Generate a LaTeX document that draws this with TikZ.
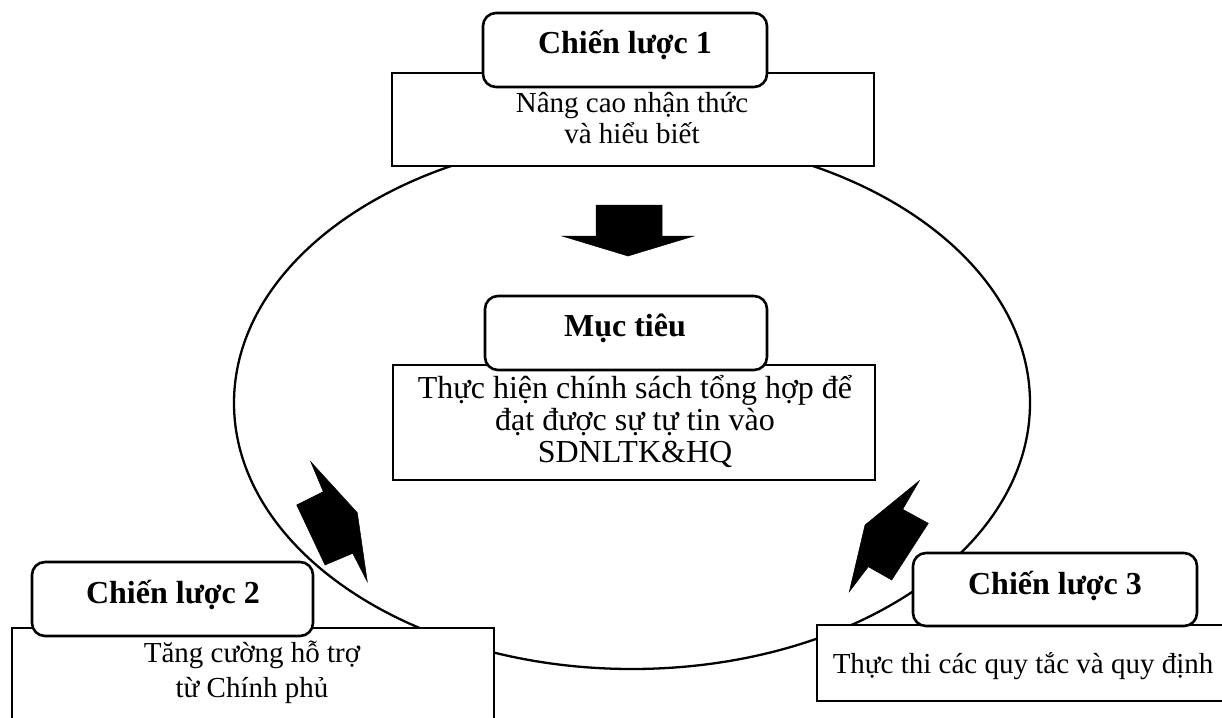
\documentclass[tikz,border=0pt]{standalone}
\usepackage{fontspec}
\setmainfont{Liberation Serif}
\begin{document}
\begin{tikzpicture}[x=1pt,y=-1pt,
  panel/.style={draw, line width=2.6pt, fill=white, inner sep=0pt, rectangle},
  tag/.style={draw, line width=2.6pt, fill=white, rounded corners=13pt, inner sep=0pt, rectangle},
  title/.style={font=\fontsize{32}{34}\selectfont\bfseries, inner sep=0pt, anchor=base},
  body/.style={font=\fontsize{29}{31}\selectfont, align=center, inner sep=0pt},
  blockarrow/.style={fill=black, draw=black, line width=0.5pt, line join=miter}
]
\clip (0,0) rectangle (1222,717);
\fill[white] (0,0) rectangle (1222,717);

% the loop joining the three strategies
\draw[line width=2.3pt] (632,403) ellipse [x radius=398pt, y radius=266pt];

% block arrows pointing at the goal
\filldraw[blockarrow] (596,205) -- (662,205) -- (662,236) -- (694,236) -- (628,256) -- (562,236) -- (596,236) -- cycle;
\filldraw[blockarrow] (310.7,461.7) -- (357.3,512.7) -- (367.3,581.7) -- (352.7,553.3) -- (325,565) -- (296.7,505) -- (323.3,491.7) -- cycle;
\filldraw[blockarrow] (919.3,480.7) -- (902.7,509.3) -- (928.3,523.3) -- (891.7,580) -- (868.3,566.7) -- (849.3,591.7) -- (865,525) -- cycle;

% content panels
\node[panel, minimum width=482pt, minimum height=93pt] (p1) at (633,119.5) {};
\node[panel, minimum width=482pt, minimum height=115pt] (p0) at (634,422.5) {};
\node[panel, minimum width=482pt, minimum height=102pt] (p2) at (253,679) {};
\node[panel, minimum width=418pt, minimum height=76pt] (p3) at (1026,663) {};

% heading tags
\node[tag, minimum width=284pt, minimum height=74pt] (g1) at (625,50) {};
\node[tag, minimum width=282pt, minimum height=74pt] (g0) at (626,333) {};
\node[tag, minimum width=281pt, minimum height=74pt] (g2) at (172.5,599) {};
\node[tag, minimum width=284pt, minimum height=73pt] (g3) at (1055,589.5) {};

% headings
\node[title] (h1) at (625,53) {Chiến lược 1};
\node[title] (h0) at (625,336) {Mục tiêu};
\node[title] (h2) at (173,603) {Chiến lược 2};
\node[title] (h3) at (1055,594) {Chiến lược 3};

% panel texts
\node[body] (d1) at (632,121.3) {\strut Nâng cao nhận thức\\\strut và hiểu biết};
\node[body, font=\fontsize{32}{32.25}\selectfont] (d0) at (635,423.8) {\strut Thực hiện chính sách tổng hợp để\\\strut đạt được sự tự tin vào\\\strut SDNLTK\&HQ};
\node[body, font=\fontsize{29}{35}\selectfont] (d2) at (252,673.2) {\strut Tăng cường hỗ trợ\\\strut từ Chính phủ};
\node[body, anchor=base] (d3) at (1023,673) {Thực thi các quy tắc và quy định};
\end{tikzpicture}
\end{document}
